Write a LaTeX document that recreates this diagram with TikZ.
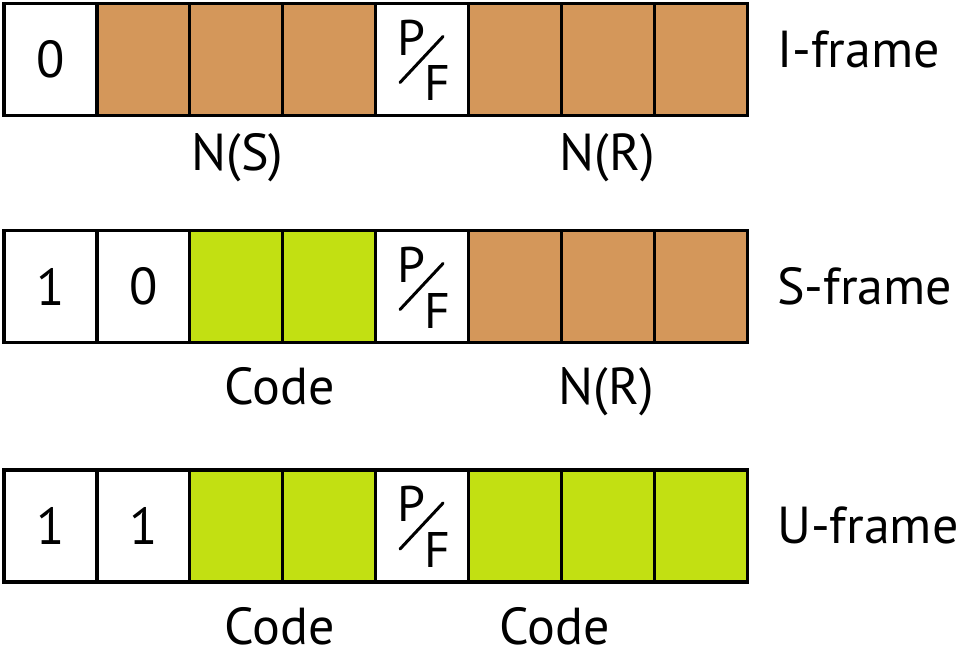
\documentclass[tikz,border=0pt]{standalone}
\usepackage{fontspec}
\setmainfont{PT Sans}
\usetikzlibrary{calc}
\definecolor{nbrown}{RGB}{212,151,90}
\definecolor{cgreen}{RGB}{194,224,18}
\tikzset{
  cell/.style={draw=black, line width=3.2pt, minimum width=92.9pt, minimum height=112pt, inner sep=0pt, font=\fontsize{52}{60}\selectfont},
  wcell/.style={cell, fill=white},
  bcell/.style={cell, fill=nbrown},
  gcell/.style={cell, fill=cgreen},
  lbl/.style={anchor=base, inner sep=0pt, font=\fontsize{52}{60}\selectfont},
  flbl/.style={anchor=base west, inner sep=0pt, font=\fontsize{52}{60}\selectfont},
  pfl/.style={inner sep=0pt, font=\fontsize{50}{60}\selectfont},
  slash/.style={line width=3pt, line cap=round}
}
\begin{document}
\begin{tikzpicture}[x=1pt,y=-1pt]
\useasboundingbox (0,0) rectangle (962,661);
% Row 1: I-frame
\node[wcell] (a1) at (50.45,59.5) {0};
\node[bcell] (a2) at (143.35,59.5) {};
\node[bcell] (a3) at (236.25,59.5) {};
\node[bcell] (a4) at (329.15,59.5) {};
\node[wcell] (a5) at (422.05,59.5) {};
\node[bcell] (a6) at (514.95,59.5) {};
\node[bcell] (a7) at (607.85,59.5) {};
\node[bcell] (a8) at (700.75,59.5) {};
% Row 2: S-frame
\node[wcell] (b1) at (50.45,286.5) {1};
\node[wcell] (b2) at (143.35,286.5) {0};
\node[gcell] (b3) at (236.25,286.5) {};
\node[gcell] (b4) at (329.15,286.5) {};
\node[wcell] (b5) at (422.05,286.5) {};
\node[bcell] (b6) at (514.95,286.5) {};
\node[bcell] (b7) at (607.85,286.5) {};
\node[bcell] (b8) at (700.75,286.5) {};
% Row 3: U-frame
\node[wcell] (c1) at (50.45,526) {1};
\node[wcell] (c2) at (143.35,526) {1};
\node[gcell] (c3) at (236.25,526) {};
\node[gcell] (c4) at (329.15,526) {};
\node[wcell] (c5) at (422.05,526) {};
\node[gcell] (c6) at (514.95,526) {};
\node[gcell] (c7) at (607.85,526) {};
\node[gcell] (c8) at (700.75,526) {};
% P/F marks
\foreach \r in {a,b,c}{
  \node[pfl] (\r P) at ($(\r5)+(-10.5,-22)$) {P};
  \node[pfl] (\r F) at ($(\r5)+(15,24)$) {F};
  \draw[slash] ($(\r5)+(-22,23)$) -- ($(\r5)+(21,-23)$);
}
% field labels
\node[lbl] (ns1) at (237.5,170) {N(S)};
\node[lbl] (nr1) at (607.5,170) {N(R)};
\node[lbl] (cd2) at (279.5,404) {Code};
\node[lbl] (nr2) at (606.5,404) {N(R)};
\node[lbl] (cd3) at (279.5,644) {Code};
\node[lbl] (cd4) at (555,644) {Code};
% frame labels
\node[flbl] (fi) at (777,68) {I-frame};
\node[flbl] (fs) at (777,304) {S-frame};
\node[flbl] (fu) at (777,543) {U-frame};
\end{tikzpicture}
\end{document}
